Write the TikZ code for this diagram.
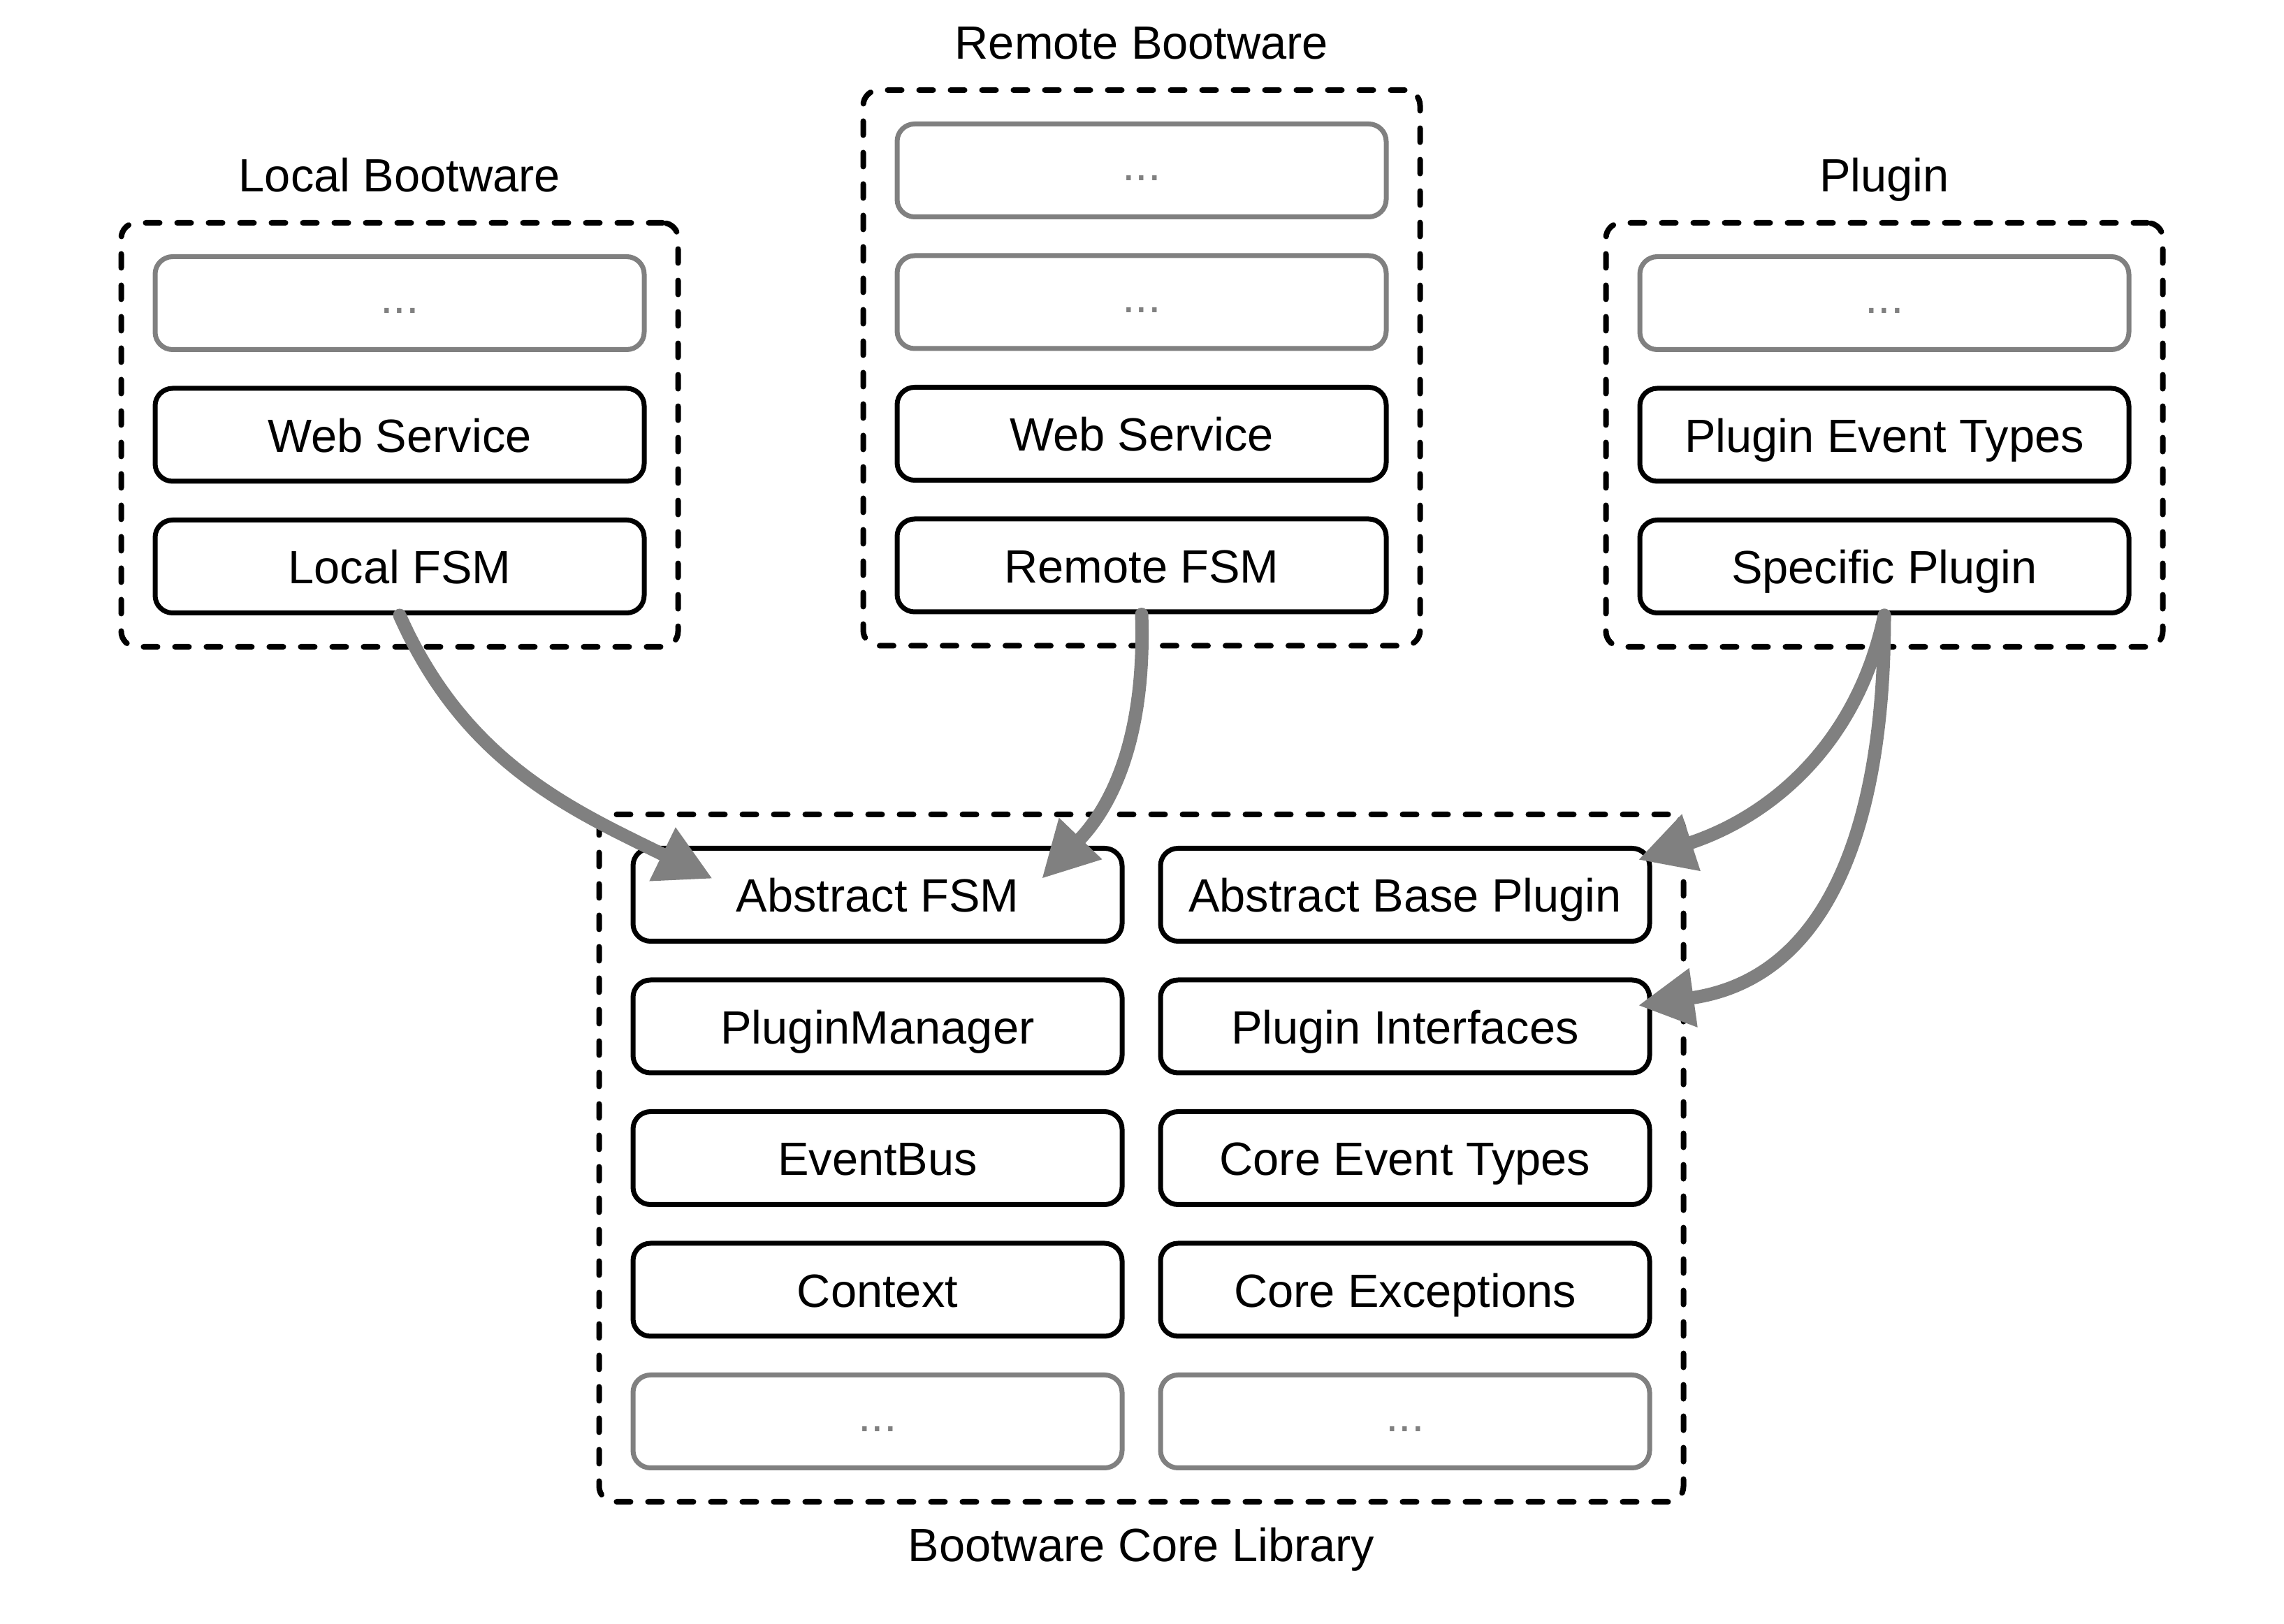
\documentclass[tikz,border=0pt]{standalone}
\usepackage{fontspec}
\setmainfont{Liberation Sans}
\usetikzlibrary{arrows.meta,fit,positioning}
\definecolor{arrowgray}{RGB}{128,128,128}
\tikzset{
    block/.style = {draw, rectangle, rounded corners=0.25cm, line width=0.07cm,
        minimum height=1.33cm, minimum width=7cm, align=center,
        text height=0.5cm, text depth=0cm},
    more/.style = {draw=arrowgray, text=arrowgray, text height=0.3cm},
    group/.style = {draw, rectangle, rounded corners=0.22cm, line width=0.08cm,
        line cap=round, dash pattern=on 0.2cm off 0.25cm, inner sep=0.45cm},
    title/.style = {inner sep=0pt, text height=0.48cm, text depth=0cm},
    dep/.style = {draw=arrowgray, line width=0.19cm, line cap=round,
        -{Triangle[length=0.8cm,width=0.8cm]}}
}

\begin{document}
\begin{tikzpicture}[node distance=1.885cm, every node/.style={font=\fontsize{19}{22}\selectfont}]
        \useasboundingbox (0,0) rectangle (32.69,-23.25);
        % remote bootware
        \node [block, more] (rem1) at (16.34,-2.44) {...};
        \node [block, more, below of=rem1] (rem2) {...};
        \node [block, below of=rem2] (rem3) {Web Service};
        \node [block, below of=rem3] (rem4) {Remote FSM};
        % local bootware
        \node [block, more] (loc1) at (5.72,-4.34) {...};
        \node [block, below of=loc1] (loc2) {Web Service};
        \node [block, below of=loc2] (loc3) {Local FSM};
        % plugin
        \node [block, more] (plg1) at (26.97,-4.34) {...};
        \node [block, below of=plg1] (plg2) {Plugin Event Types};
        \node [block, below of=plg2] (plg3) {Specific Plugin};
        % core library
        \node [block] (core1) at (12.56,-12.81) {Abstract FSM};
        \node [block, right of=core1, node distance=7.55cm] (base1) {Abstract Base Plugin};
        \foreach \a/\lt/\rt [evaluate=\a as \prev using int(\a-1)] in {2/PluginManager/Plugin Interfaces, 3/EventBus/Core Event Types, 4/Context/Core Exceptions}{
            \node [block, below of=core\prev] (core\a) {\lt};
            \node [block, below of=base\prev] (base\a) {\rt};
        }
        \node [block, more, below of=core4] (core5) {...};
        \node [block, more, below of=base4] (base5) {...};

        \node [group, fit=(loc1)(loc3)] (local) {};
        \node [group, fit=(rem1)(rem4)] (remote) {};
        \node [group, fit=(plg1)(plg3)] (plugin) {};
        \node [group, fit=(core1)(base5)] (core) {};
        \node [title, above=0.4cm of local] {Local Bootware};
        \node [title, above=0.4cm of remote] {Remote Bootware};
        \node [title, above=0.4cm of plugin] {Plugin};
        \node [title, below=0.33cm of core] {Bootware Core Library};

        \draw [dep] (loc3.south) to[out=-66, in=154] ([xshift=-2.36cm,yshift=0.23cm]core1.center);
        \draw [dep] (rem4.south) to[out=-88, in=46] ([xshift=2.35cm,yshift=0.23cm]core1.center);
        \draw [dep] (plg3.south) to[out=-102, in=18] ([xshift=-0.2cm,yshift=0.5cm]base1.east);
        \draw [dep] (plg3.south) to[out=-90, in=8, looseness=1.1] ([xshift=-0.2cm,yshift=0.3cm]base2.east);
\end{tikzpicture}
\end{document}
